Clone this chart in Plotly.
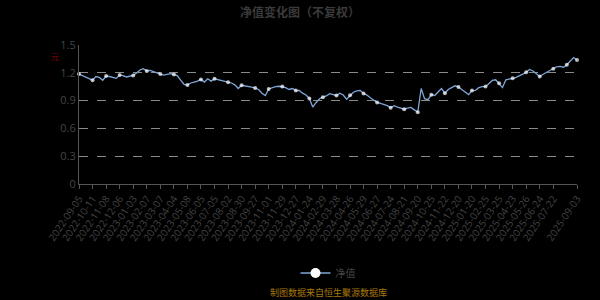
import plotly.graph_objects as go

# Trading-day index of every sampled point (every 5 trading days)
step = 5
nav = [
    1.186, 1.17, 1.16, 1.14, 1.12, 1.16, 1.15, 1.12, 1.165, 1.16,
    1.15, 1.14, 1.175, 1.17, 1.155, 1.165, 1.172, 1.197, 1.23, 1.245,
    1.22, 1.225, 1.21, 1.20, 1.186, 1.175, 1.18, 1.19, 1.183, 1.17,
    1.12, 1.076, 1.068, 1.09, 1.10, 1.11, 1.129, 1.10, 1.135, 1.11,
    1.135, 1.125, 1.12, 1.105, 1.097, 1.09, 1.07, 1.03, 1.065, 1.06,
    1.05, 1.045, 1.036, 1.02, 0.98, 0.955, 1.026, 1.04, 1.05, 1.055,
    1.051, 1.04, 1.02, 1.03, 1.008, 1.01, 0.98, 0.96, 0.923, 0.83,
    0.88, 0.92, 0.937, 0.95, 0.975, 0.965, 0.955, 0.98, 0.96, 0.915,
    0.958, 0.99, 1.005, 1.01, 0.976, 0.96, 0.93, 0.90, 0.88, 0.87,
    0.86, 0.845, 0.822, 0.845, 0.83, 0.82, 0.807, 0.82, 0.826, 0.80,
    0.775, 1.03, 0.92, 0.91, 0.964, 0.955, 0.99, 1.03, 0.98, 1.02,
    1.04, 1.06, 1.047, 1.02, 0.99, 0.965, 1.008, 1.01, 1.04, 1.05,
    1.051, 1.09, 1.118, 1.125, 1.086, 1.04, 1.125, 1.13, 1.14, 1.15,
    1.165, 1.185, 1.207, 1.236, 1.22, 1.19, 1.16, 1.185, 1.205, 1.22,
    1.245, 1.265, 1.27, 1.26, 1.288, 1.33, 1.365, 1.338,
]
tick_labels = [
    "2022-09-05", "2022-10-11", "2022-11-08", "2022-12-06", "2023-01-03",
    "2023-02-07", "2023-03-07", "2023-04-04", "2023-05-08", "2023-06-05",
    "2023-07-05", "2023-08-02", "2023-08-30", "2023-09-27", "2023-11-01",
    "2023-11-29", "2023-12-27", "2024-01-24", "2024-02-29", "2024-03-28",
    "2024-04-26", "2024-05-29", "2024-06-27", "2024-07-24", "2024-08-21",
    "2024-09-20", "2024-10-25", "2024-11-22", "2024-12-20", "2025-01-20",
    "2025-02-25", "2025-03-25", "2025-04-23", "2025-05-26", "2025-06-24",
    "2025-07-22", "2025-09-03",
]
tick_every = 20
last_index = 735

x = [i * step for i in range(len(nav))]
tickvals = [i * tick_every for i in range(len(tick_labels) - 1)] + [last_index]
msize = [4 if (xi % tick_every == 0 or xi == x[-1]) else 0 for xi in x]

LINE = "#7ea6d8"
fig = go.Figure()
fig.add_trace(go.Scatter(
    x=x, y=nav, mode="lines+markers", showlegend=False,
    line=dict(color=LINE, width=1.3),
    marker=dict(size=msize, color="#ffffff", line=dict(width=0)),
    cliponaxis=False, hoverinfo="skip",
))
fig.add_trace(go.Scatter(
    x=[None], y=[None], mode="lines+markers", name="净值",
    line=dict(color=LINE, width=1.5),
    marker=dict(size=10, color="#ffffff"),
))

fig.update_layout(
    width=600, height=300,
    paper_bgcolor="#000000", plot_bgcolor="#000000",
    margin=dict(l=79, r=23, t=45, b=114),
    font=dict(family="Open Sans, Noto Sans CJK SC", color="#444444", size=10),
    title=dict(text="<b>净值变化图（不复权）</b>", x=0.5, xanchor="center",
               y=0.972, yanchor="top",
               font=dict(size=12, color="#3a3a3a", family="Noto Sans CJK SC")),
    legend=dict(orientation="h", x=0.5, xanchor="center", y=-0.64, yanchor="middle",
                font=dict(size=10, color="#444444", family="Noto Sans CJK SC"),
                bgcolor="rgba(0,0,0,0)"),
    xaxis=dict(range=[0, last_index], tickvals=tickvals, ticktext=tick_labels,
               tickangle=-56, showgrid=False, zeroline=False,
               showline=True, linecolor="#555555", linewidth=1,
               ticks="outside", ticklen=4, tickcolor="#555555",
               tickfont=dict(size=10, color="#444444")),
    yaxis=dict(range=[0, 1.5], tickvals=[0, 0.3, 0.6, 0.9, 1.2, 1.5],
               ticktext=["0", "0.3", "0.6", "0.9", "1.2", "1.5"],
               showgrid=True, gridcolor="#8a8a8a", griddash="dash", gridwidth=1,
               zeroline=False, showline=True, linecolor="#555555", linewidth=1,
               tickfont=dict(size=11, color="#444444")),
    annotations=[
        dict(text="元", xref="paper", yref="paper", x=-0.048, y=0.915,
             xanchor="center", yanchor="middle",
             showarrow=False, font=dict(size=8, color="#8b0000", family="Noto Sans CJK SC")),
        dict(text="制图数据来自恒生聚源数据库", xref="paper", yref="paper",
             x=0.5, y=-0.784, xanchor="center", yanchor="middle", showarrow=False,
             font=dict(size=9, color="#a8780a", family="Noto Sans CJK SC")),
    ],
)
fig.write_html("out.html")
